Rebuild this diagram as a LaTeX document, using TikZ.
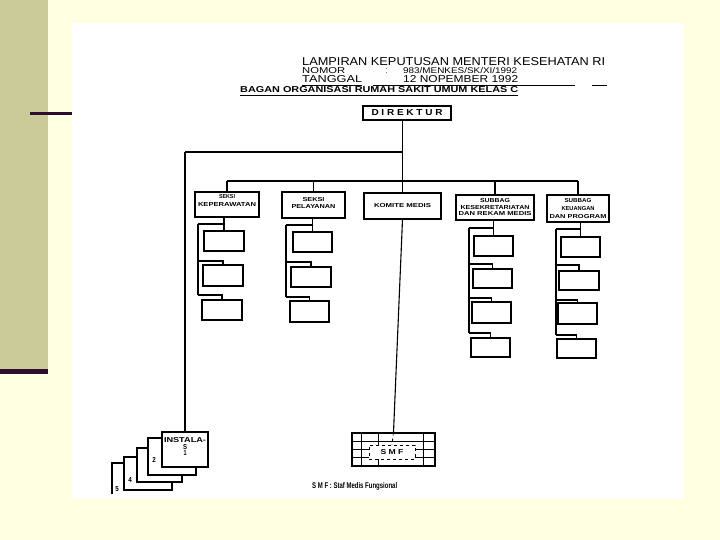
\documentclass[tikz,border=0pt]{standalone}
\usepackage{fontspec}
\setmainfont{Liberation Sans}
\usepackage{graphicx}
\definecolor{slidebg}{HTML}{FFFFE1}
\definecolor{barcol}{HTML}{CBCA99}
\definecolor{markcol}{HTML}{2E0D2E}
\newcommand{\fitw}[3]{\resizebox{#1pt}{#2pt}{#3}}
\newcommand{\fitb}[3]{\resizebox{#1pt}{#2pt}{\bfseries #3}}
\begin{document}
\begin{tikzpicture}[x=1pt,y=-1pt,
  bx/.style={draw, line width=1.3pt, inner sep=0pt, align=center, fill=white, font=\fontsize{4}{8}\selectfont},
  ln/.style={line width=1.1pt},
  txt/.style={inner sep=0pt}]
\useasboundingbox (0,0) rectangle (720,540);
% slide background
\fill[slidebg] (0,0) rectangle (720,540);
\fill[barcol] (0,0) rectangle (48,369);
\fill[white] (72,23) rectangle (684,499);
\fill[markcol] (0,369) rectangle (48,374);
\fill[markcol] (30,112) rectangle (72,115);

% header
\node[txt, anchor=base west] (h1) at (302,66) {\fitw{303}{8}{LAMPIRAN KEPUTUSAN MENTERI KESEHATAN RI}};
\node[txt, anchor=base west] (h2) at (302,74) {\fitw{43}{6}{NOMOR}};
\node[txt, anchor=base west] (h2c) at (386,74) {\fitw{1.5}{5}{:}};
\node[txt, anchor=base west] (h2v) at (403,74) {\fitw{114}{6}{983/MENKES/SK/XI/1992}};
\node[txt, anchor=base west] (h3) at (302,83) {\fitw{60}{7}{TANGGAL}};
\node[txt, anchor=base west] (h3v) at (403,83) {\fitw{115}{7}{12 NOPEMBER 1992}};
\draw[line width=0.8pt] (302,85) -- (362,85) (373,85) -- (575,85) (592,85) -- (607,85);
\node[txt, anchor=base west] (h4) at (240,93) {\fitb{278}{6}{BAGAN ORGANISASI RUMAH SAKIT UMUM KELAS C}};
\draw[line width=0.8pt] (240,95.5) -- (518,95.5);

% top box
\node[bx, minimum width=88, minimum height=14] (dir) at (407,113) {\fitb{71}{6}{D I R E K T U R}};

% second level
\node[bx, minimum width=64, minimum height=25, text depth=7pt] (kep) at (227,204.5)
  {\fitb{16}{4}{SEKSI}\\\fitb{58}{4}{KEPERAWATAN}};
\node[bx, minimum width=63, minimum height=26, text depth=4pt] (pel) at (313.5,205)
  {\fitb{22}{4}{SEKSI}\\\fitb{44}{4}{PELAYANAN}};
\node[bx, minimum width=77, minimum height=26] (kom) at (402.5,206) {\fitb{57}{4}{KOMITE MEDIS}};
\node[bx, minimum width=78, minimum height=25, font=\fontsize{4}{6.5}\selectfont] (sek) at (495,207.5)
  {\fitb{30}{4}{SUBBAG}\\\fitb{69}{4}{KESEKRETARIATAN}\\\fitb{73}{4}{DAN REKAM MEDIS}};
\node[bx, minimum width=62, minimum height=27] (keu) at (578,208.5)
  {\fitb{27}{4}{SUBBAG}\\\fitb{33}{4}{KEUANGAN}\\\fitb{57}{4}{DAN PROGRAM}};

% third level boxes
\node[bx, minimum width=40, minimum height=20] (k1) at (224,241) {};
\node[bx, minimum width=40, minimum height=21] (k2) at (223,275.5) {};
\node[bx, minimum width=40, minimum height=20] (k3) at (222,310) {};
\node[bx, minimum width=39, minimum height=20] (p1) at (312.5,242) {};
\node[bx, minimum width=40, minimum height=20] (p2) at (311,277) {};
\node[bx, minimum width=39, minimum height=21] (p3) at (309.5,311.5) {};
\node[bx, minimum width=39, minimum height=20] (s1) at (493.5,246) {};
\node[bx, minimum width=39, minimum height=19] (s2) at (492.5,278.5) {};
\node[bx, minimum width=39, minimum height=21] (s3) at (491.5,312.5) {};
\node[bx, minimum width=39, minimum height=19] (s4) at (490.5,347.5) {};
\node[bx, minimum width=39, minimum height=20] (u1) at (580.5,247) {};
\node[bx, minimum width=40, minimum height=19] (u2) at (579,280.5) {};
\node[bx, minimum width=39, minimum height=21] (u3) at (577.5,313.5) {};
\node[bx, minimum width=39, minimum height=19] (u4) at (576.5,348.5) {};

% instalasi stack
\draw[line width=1.3pt] (112,494) -- (112,463) -- (124,463);
\node[bx, minimum width=48, minimum height=33] (inst4) at (148,473.5) {};
\node[bx, minimum width=45, minimum height=34] (inst3) at (159.5,465) {};
\node[bx, minimum width=48, minimum height=37] (inst2) at (172,456.5) {};
\node[bx, minimum width=46, minimum height=35, font=\fontsize{5}{6.5}\selectfont, text depth=6pt] (inst1) at (185,449.5)
  {\fitb{42}{5}{INSTALA-}\\\fitb{4}{5}{S}\\\fitb{3}{5}{1}};
\node[txt] (n2) at (154,460) {\fitb{3.5}{5}{2}};
\node[txt] (n4) at (130,480) {\fitb{3.5}{5}{4}};
\node[txt] (n5) at (117,489) {\fitb{3.5}{5}{5}};

% SMF grid
\node[bx, minimum width=83, minimum height=33] (smf) at (393.5,449.5) {};
\draw[line width=1pt] (352,441) -- (435,441) (352,449) -- (435,449) (352,457) -- (435,457)
  (361,433) -- (361,466) (378,433) -- (378,466) (423,433) -- (423,466);
\node[draw, dashed, fill=white, line width=0.8pt, inner sep=0pt, minimum width=46, minimum height=14] (smfc) at (392,452)
  {\fitb{23}{5}{S M F}};
\draw[dashed, line width=0.8pt] (smf.north) -- (smfc.north);
\node[txt, anchor=base west] (cap) at (312,488) {\fitb{85}{6}{S M F : Staf Medis Fungsional}};

% connectors
\coordinate (lb) at (185,152);
\coordinate (b2) at (0,181);
\draw[ln] (dir.south -| kom.north) -- (kom.north);
\draw[ln] (lb) -- (lb -| kom.north);
\draw[ln] (lb) -- (inst1.north);
\draw[ln] (kep.north |- b2) -- (keu.north |- b2);
\foreach \n in {kep,pel,sek,keu} \draw[ln] (\n.north |- b2) -- (\n.north);
\draw[ln] (kom.south) -- (smf.north);

% column kep
\coordinate (kt) at (198,224); \coordinate (ke2) at (198,261); \coordinate (ke3) at (198,295);
\draw[ln] (kep.south -| k1.north) -- (k1.north);
\draw[ln] (kt) -- (kt -| k1.north);
\draw[ln] (kt) -- (ke3);
\draw[ln] (ke2) -| (k2.north);
\draw[ln] (ke3) -| (k3.north);
% column pel
\coordinate (pt) at (286,225); \coordinate (pe2) at (286,262); \coordinate (pe3) at (286,297);
\draw[ln] (pel.south -| p1.north) -- (p1.north);
\draw[ln] (pt) -- (pt -| p1.north);
\draw[ln] (pt) -- (pe3);
\draw[ln] (pe2) -| (p2.north);
\draw[ln] (pe3) -| (p3.north);
% column sek
\coordinate (st) at (469,228); \coordinate (se2) at (469,264); \coordinate (se3) at (469,298); \coordinate (se4) at (469,333);
\draw[ln] (sek.south -| s1.north) -- (s1.north);
\draw[ln] (st) -- (st -| s1.north);
\draw[ln] (st) -- (se4);
\draw[ln] (se2) -| (s2.north);
\draw[ln] (se3) -| (s3.north);
\draw[ln] (se4) -| (s4.north);
% column keu
\coordinate (ut) at (556,229); \coordinate (ue2) at (556,265); \coordinate (ue3) at (556,300); \coordinate (ue4) at (556,335);
\draw[ln] (keu.south -| u1.north) -- (u1.north);
\draw[ln] (ut) -- (ut -| u1.north);
\draw[ln] (ut) -- (ue4);
\draw[ln] (ue2) -| (u2.north);
\draw[ln] (ue3) -| (u3.north);
\draw[ln] (ue4) -| (u4.north);
\end{tikzpicture}
\end{document}
